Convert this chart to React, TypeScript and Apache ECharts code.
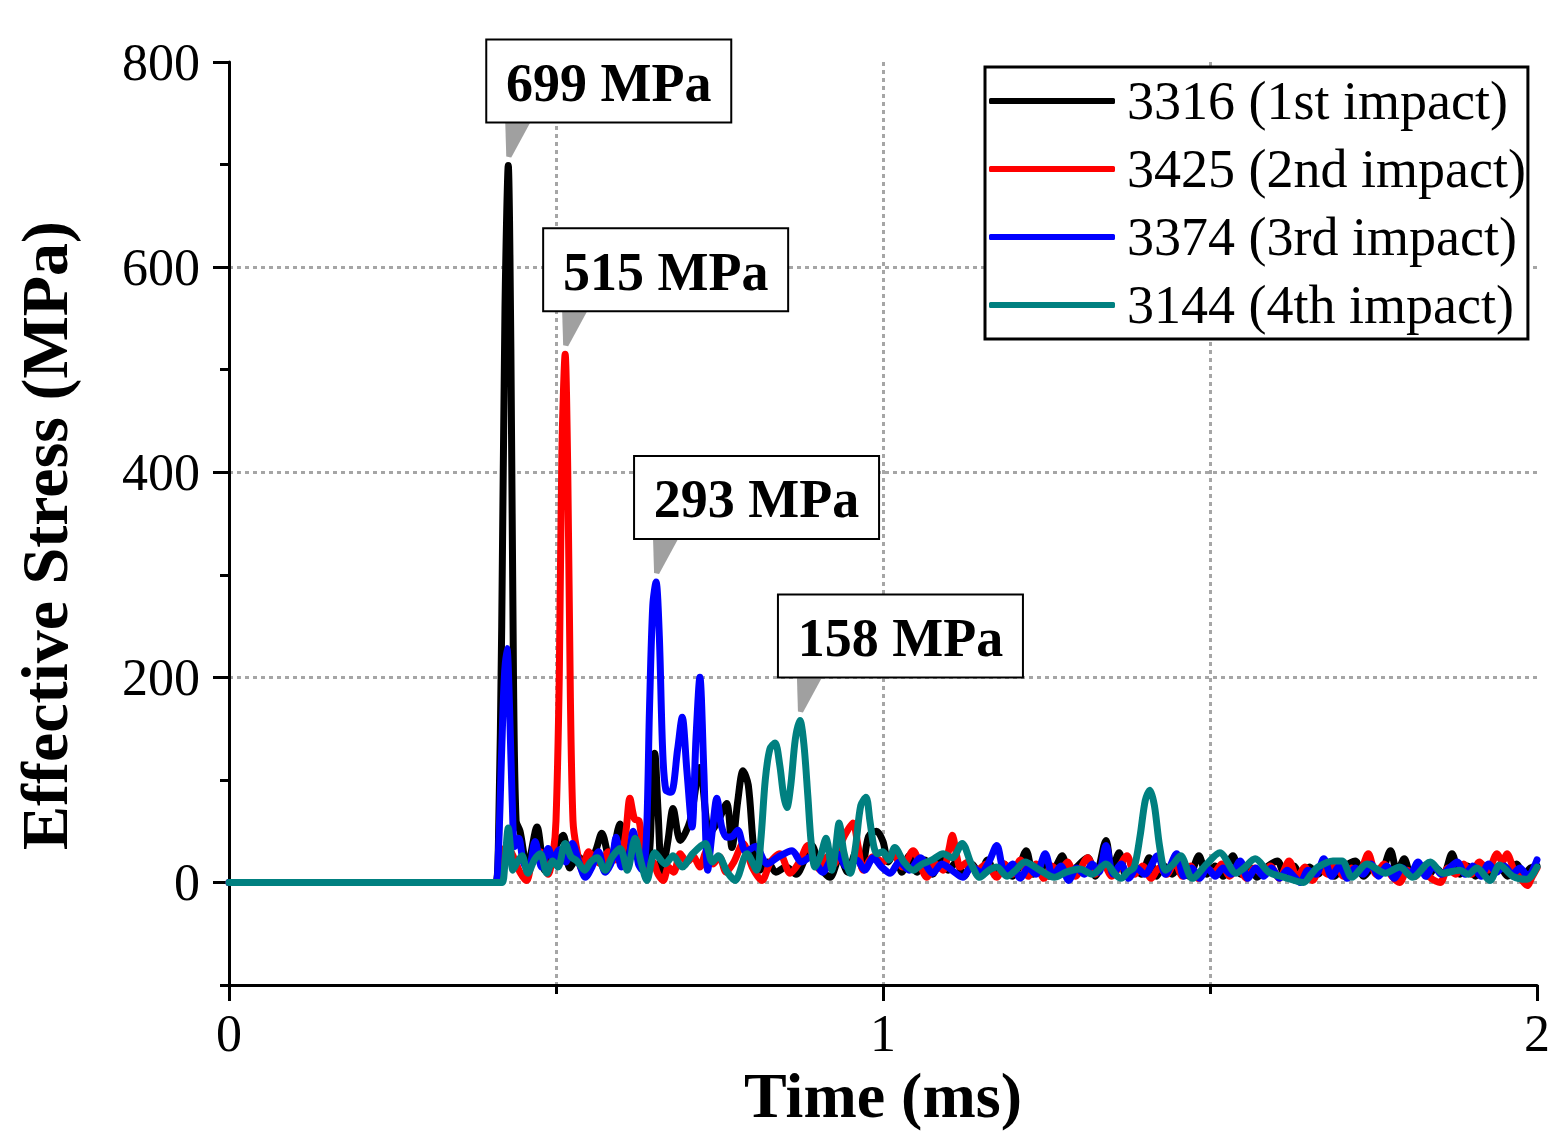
import React, { useEffect, useRef } from "react";
import * as echarts from "echarts";

const SERIES_NAMES = ["3316 (1st impact)", "3425 (2nd impact)", "3374 (3rd impact)", "3144 (4th impact)"];
const X_TICKS = [0, 1, 2];
const Y_MAJOR_TICKS = [0, 200, 400, 600, 800];
const PEAK_LABELS = ["699 MPa", "515 MPa", "293 MPa", "158 MPa"];
const PEAK_POINTS = [[0.427, 699], [0.514, 515], [0.653, 293], [0.873, 158]];

const black3316 = [
  [0, 0], [0.4, 0], [0.408, 0], [0.412, 40], [0.417, 250], [0.422, 560], [0.427, 699], [0.431, 520], [0.435, 200], [0.439, 60],
  [0.445, 50], [0.456, 15], [0.471, 54], [0.483, 12], [0.495, 30], [0.511, 46], [0.521, 14], [0.534, 25], [0.547, 18], [0.56, 30],
  [0.57, 48], [0.583, 20], [0.598, 57], [0.61, 25], [0.624, 40], [0.636, 15], [0.643, 30], [0.647, 90], [0.651, 126], [0.656, 70],
  [0.662, 8], [0.671, 40], [0.679, 72], [0.69, 41], [0.705, 60], [0.72, 112], [0.735, 48], [0.748, 60], [0.761, 77], [0.769, 34],
  [0.778, 80], [0.786, 109], [0.794, 95], [0.803, 30], [0.812, 12], [0.824, 20], [0.836, 10], [0.852, 15], [0.867, 8], [0.882, 25],
  [0.891, 36], [0.904, 15], [0.919, 5], [0.934, 25], [0.946, 10], [0.959, 30], [0.968, 15], [0.978, 45], [0.99, 50], [1.0, 40],
  [1.008, 20], [1.018, 30], [1.029, 10], [1.04, 26], [1.052, 10], [1.064, 22], [1.076, 8], [1.088, 25], [1.1, 12], [1.112, 20],
  [1.124, 6], [1.136, 18], [1.148, 8], [1.16, 22], [1.172, 8], [1.185, 18], [1.198, 6], [1.208, 15], [1.219, 31], [1.23, 8],
  [1.242, 18], [1.254, 6], [1.264, 15], [1.274, 26], [1.285, 6], [1.296, 15], [1.313, 24], [1.325, 6], [1.341, 41], [1.35, 12],
  [1.361, 29], [1.372, 6], [1.384, 14], [1.395, 8], [1.407, 24], [1.418, 6], [1.43, 16], [1.442, 8], [1.455, 18], [1.468, 6],
  [1.483, 26], [1.495, 8], [1.508, 16], [1.52, 6], [1.535, 26], [1.547, 8], [1.56, 15], [1.572, 5], [1.585, 14], [1.603, 21],
  [1.615, 6], [1.628, 16], [1.64, 5], [1.652, 15], [1.665, 8], [1.678, 20], [1.69, 6], [1.702, 14], [1.722, 21], [1.735, 6],
  [1.748, 14], [1.76, 8], [1.776, 31], [1.786, 10], [1.797, 23], [1.808, 6], [1.82, 15], [1.832, 6], [1.845, 14], [1.857, 8],
  [1.87, 28], [1.882, 8], [1.894, 16], [1.906, 6], [1.918, 14], [1.93, 8], [1.942, 16], [1.955, 6], [1.969, 18], [1.98, 8],
  [1.99, 14], [2.0, 16],
];

const red3425 = [
  [0, 0], [0.4, 0], [0.408, 0], [0.413, 15], [0.418, 30], [0.425, 35], [0.435, 25], [0.445, 10], [0.455, 2], [0.465, 25],
  [0.476, 30], [0.488, 8], [0.496, 30], [0.5, 60], [0.505, 200], [0.509, 420], [0.514, 515], [0.518, 400], [0.522, 180], [0.526, 60],
  [0.531, 35], [0.54, 12], [0.55, 30], [0.56, 22], [0.57, 18], [0.58, 30], [0.59, 22], [0.6, 25], [0.607, 50], [0.613, 82],
  [0.62, 62], [0.627, 60], [0.633, 30], [0.64, 12], [0.648, 20], [0.656, 8], [0.664, 2], [0.672, 15], [0.68, 10], [0.69, 28],
  [0.7, 20], [0.71, 25], [0.72, 15], [0.73, 30], [0.74, 18], [0.75, 25], [0.76, 10], [0.772, 20], [0.786, 38], [0.8, 15],
  [0.815, 2], [0.828, 20], [0.842, 28], [0.858, 9], [0.872, 20], [0.885, 36], [0.895, 20], [0.904, 12], [0.915, 25], [0.925, 18],
  [0.937, 40], [0.945, 50], [0.954, 58], [0.962, 35], [0.97, 12], [0.985, 25], [1.0, 20], [1.015, 28], [1.03, 15], [1.046, 31],
  [1.058, 15], [1.067, 5], [1.08, 18], [1.092, 12], [1.1, 30], [1.106, 46], [1.113, 25], [1.118, 15], [1.13, 20], [1.144, 12],
  [1.158, 18], [1.174, 5], [1.186, 18], [1.198, 8], [1.21, 22], [1.222, 6], [1.234, 18], [1.246, 4], [1.258, 16], [1.27, 10],
  [1.282, 20], [1.294, 6], [1.313, 24], [1.325, 8], [1.337, 18], [1.35, 6], [1.36, 14], [1.373, 26], [1.385, 8], [1.397, 16],
  [1.41, 4], [1.422, 14], [1.434, 8], [1.446, 20], [1.458, 6], [1.47, 16], [1.482, 4], [1.494, 14], [1.506, 10], [1.518, 18],
  [1.53, 6], [1.542, 14], [1.556, 4], [1.568, 14], [1.58, 8], [1.592, 16], [1.606, 4], [1.621, 21], [1.633, 5], [1.645, 15],
  [1.657, 2], [1.669, 14], [1.68, 8], [1.692, 18], [1.704, 6], [1.716, 14], [1.728, 10], [1.742, 28], [1.754, 8], [1.766, 18],
  [1.778, 6], [1.79, 0], [1.802, 12], [1.814, 6], [1.826, 16], [1.838, 4], [1.852, 0], [1.864, 14], [1.876, 8], [1.888, 18],
  [1.9, 8], [1.912, 20], [1.925, 12], [1.939, 28], [1.947, 20], [1.954, 28], [1.965, 12], [1.975, 4], [1.985, -3], [1.993, 6],
  [2.0, 14],
];

const blue3374 = [
  [0, 0], [0.4, 0], [0.408, 0], [0.412, 30], [0.417, 130], [0.421, 200], [0.425, 228], [0.429, 170], [0.433, 80], [0.437, 35],
  [0.443, 43], [0.45, 20], [0.458, 12], [0.468, 40], [0.478, 15], [0.488, 33], [0.496, 22], [0.505, 32], [0.515, 20], [0.525, 38],
  [0.535, 20], [0.545, 5], [0.555, 15], [0.565, 30], [0.575, 10], [0.585, 20], [0.592, 44], [0.6, 15], [0.61, 20], [0.618, 50],
  [0.626, 18], [0.632, 12], [0.638, 40], [0.643, 170], [0.648, 270], [0.653, 293], [0.658, 240], [0.663, 130], [0.668, 90], [0.676, 88],
  [0.686, 130], [0.693, 161], [0.7, 110], [0.708, 54], [0.714, 140], [0.72, 200], [0.726, 110], [0.732, 12], [0.739, 50], [0.746, 82],
  [0.753, 55], [0.761, 44], [0.77, 45], [0.778, 51], [0.79, 30], [0.805, 35], [0.823, 18], [0.84, 25], [0.861, 31], [0.875, 20],
  [0.89, 25], [0.908, 10], [0.92, 22], [0.93, 28], [0.945, 15], [0.96, 22], [0.972, 12], [0.985, 24], [0.998, 15], [1.011, 9],
  [1.025, 20], [1.04, 12], [1.057, 24], [1.076, 9], [1.09, 18], [1.105, 12], [1.122, 5], [1.135, 15], [1.15, 10], [1.162, 20],
  [1.174, 36], [1.186, 10], [1.198, 18], [1.21, 4], [1.222, 14], [1.234, 8], [1.248, 28], [1.26, 6], [1.272, 16], [1.284, 2],
  [1.296, 14], [1.308, 8], [1.32, 18], [1.33, 10], [1.341, 36], [1.352, 8], [1.364, 18], [1.376, 4], [1.388, 14], [1.4, 8],
  [1.42, 26], [1.432, 8], [1.449, 28], [1.46, 6], [1.472, 14], [1.484, 4], [1.496, 14], [1.508, 6], [1.52, 14], [1.532, 8],
  [1.546, 21], [1.558, 4], [1.57, 14], [1.582, 6], [1.594, 14], [1.606, 4], [1.618, 12], [1.628, 6], [1.638, 0], [1.65, 12],
  [1.662, 8], [1.674, 23], [1.686, 6], [1.698, 16], [1.71, 4], [1.722, 14], [1.734, 8], [1.746, 18], [1.758, 6], [1.77, 16],
  [1.782, 4], [1.794, 14], [1.806, 8], [1.818, 20], [1.83, 6], [1.842, 16], [1.854, 8], [1.866, 14], [1.878, 20], [1.89, 8],
  [1.902, 16], [1.914, 6], [1.926, 18], [1.938, 10], [1.95, 16], [1.962, 8], [1.974, 14], [1.986, 6], [2.0, 22],
];

const teal3144 = [
  [0, 0], [0.412, 0], [0.418, 0], [0.422, 20], [0.427, 53], [0.431, 30], [0.434, 12], [0.441, 20], [0.448, 26], [0.457, 9],
  [0.467, 22], [0.476, 28], [0.486, 9], [0.495, 21], [0.503, 15], [0.514, 38], [0.523, 25], [0.532, 21], [0.544, 12], [0.553, 20],
  [0.563, 24], [0.575, 12], [0.586, 25], [0.598, 33], [0.609, 12], [0.621, 43], [0.63, 20], [0.639, 2], [0.651, 29], [0.667, 18],
  [0.679, 26], [0.693, 15], [0.709, 28], [0.728, 38], [0.739, 20], [0.748, 26], [0.762, 10], [0.774, 2], [0.792, 28], [0.807, 12],
  [0.813, 40], [0.82, 100], [0.827, 130], [0.835, 136], [0.842, 115], [0.848, 85], [0.853, 73], [0.859, 95], [0.866, 140], [0.873, 158],
  [0.879, 135], [0.885, 85], [0.89, 40], [0.896, 15], [0.904, 25], [0.913, 43], [0.922, 12], [0.927, 30], [0.933, 58], [0.94, 30],
  [0.95, 9], [0.958, 35], [0.966, 75], [0.974, 83], [0.98, 60], [0.986, 35], [0.991, 28], [1.0, 30], [1.009, 22], [1.018, 34],
  [1.032, 20], [1.046, 12], [1.06, 18], [1.075, 22], [1.092, 28], [1.106, 24], [1.121, 38], [1.135, 18], [1.148, 5], [1.162, 12],
  [1.174, 15], [1.19, 6], [1.203, 12], [1.217, 20], [1.24, 12], [1.262, 5], [1.28, 10], [1.301, 13], [1.32, 8], [1.341, 18],
  [1.355, 8], [1.364, 4], [1.374, 10], [1.384, 15], [1.393, 45], [1.401, 80], [1.408, 90], [1.415, 75], [1.423, 35], [1.432, 12],
  [1.444, 18], [1.455, 26], [1.473, 4], [1.495, 18], [1.515, 29], [1.54, 9], [1.552, 14], [1.569, 23], [1.59, 10], [1.614, 5],
  [1.643, 0], [1.655, 8], [1.665, 15], [1.688, 21], [1.702, 21], [1.717, 5], [1.74, 18], [1.768, 9], [1.79, 15], [1.81, 5],
  [1.837, 20], [1.856, 9], [1.882, 12], [1.895, 8], [1.908, 14], [1.928, 2], [1.943, 17], [1.963, 6], [1.985, 3], [2.0, 15],
];

const SERIES_DATA = [black3316, red3425, blue3374, teal3144];
const SERIES_COLORS = ["#000000", "#ff0000", "#0000ff", "#008080"];

const FONT = '"Liberation Serif", "Times New Roman", Times, serif';

export default function App() {
  const ref = useRef<HTMLDivElement>(null);

  useEffect(() => {
    const el = ref.current;
    if (!el) return;
    const chart = echarts.init(el, null, { renderer: "svg" });
    const gridLine = { color: "#a6a6a6", width: 3, type: [4, 4] as number[] };

    chart.setOption({
      animation: false,
      backgroundColor: "#ffffff",
      grid: { left: 229, top: 62, right: 28, bottom: 154, containLabel: false, outerBoundsMode: "none" },
      legend: {
        data: SERIES_NAMES,
        orient: "vertical",
        left: 985,
        top: 67,
        backgroundColor: "#ffffff",
        borderColor: "#000000",
        borderWidth: 3,
        borderRadius: 0,
        padding: [4, 2, 4, 4],
        icon: "roundRect",
        itemWidth: 126,
        itemHeight: 6,
        itemGap: 8,
        selectedMode: false,
        textStyle: { fontFamily: FONT, fontSize: 54, color: "#000000", lineHeight: 60, padding: [0, 0, 0, 7] },
      },
      xAxis: {
        type: "value",
        min: 0,
        max: 2,
        interval: 1,
        name: "Time (ms)",
        nameLocation: "middle",
        nameGap: 78,
        nameMoveOverlap: false,
        nameTextStyle: { fontFamily: FONT, fontSize: 64, fontWeight: "bold", color: "#000000" },
        axisLine: { show: true, onZero: false, lineStyle: { color: "#000000", width: 3 } },
        axisTick: { show: true, length: 16, lineStyle: { color: "#000000", width: 3 } },
        minorTick: { show: true, splitNumber: 2, length: 9, lineStyle: { color: "#000000", width: 3 } },
        axisLabel: {
          fontFamily: FONT,
          fontSize: 52,
          color: "#000000",
          margin: 22,
          formatter: (v: number) => (X_TICKS.includes(v) ? String(v) : ""),
        },
        splitLine: { show: true, showMinLine: false, showMaxLine: false, lineStyle: gridLine },
        minorSplitLine: { show: true, lineStyle: gridLine },
      },
      yAxis: [
        {
          type: "value",
          min: -100,
          max: 800,
          interval: 100,
          position: "left",
          name: "Effective Stress (MPa)",
          nameLocation: "middle",
          nameRotate: 90,
          nameGap: 152,
          nameMoveOverlap: false,
          nameTextStyle: { fontFamily: FONT, fontSize: 66, fontWeight: "bold", color: "#000000", padding: [0, 24, 0, 0] },
          axisLine: { show: true, onZero: false, lineStyle: { color: "#000000", width: 3 } },
          axisTick: { show: true, length: 16, customValues: Y_MAJOR_TICKS, lineStyle: { color: "#000000", width: 3 } },
          axisLabel: {
            fontFamily: FONT,
            fontSize: 52,
            color: "#000000",
            margin: 29,
            customValues: Y_MAJOR_TICKS,
            formatter: (v: number) => (Y_MAJOR_TICKS.includes(v) ? String(v) : ""),
          },
          splitLine: { show: true, showMinLine: true, showMaxLine: false, lineStyle: gridLine },
        },
        {
          type: "value",
          min: -100,
          max: 800,
          interval: 100,
          position: "left",
          offset: 0,
          axisLine: { show: false },
          axisTick: { show: true, length: 9, lineStyle: { color: "#000000", width: 3 } },
          axisLabel: { show: false },
          splitLine: { show: false },
        },
      ],
      series: SERIES_NAMES.map((name, i) => ({
        name,
        type: "line",
        data: SERIES_DATA[i],
        xAxisIndex: 0,
        yAxisIndex: 0,
        symbol: "none",
        showSymbol: false,
        smooth: 0.3,
        z: 3 + i,
        color: SERIES_COLORS[i],
        itemStyle: { color: SERIES_COLORS[i] },
        lineStyle: { color: SERIES_COLORS[i], width: 7, join: "round", cap: "round" },
      })),
    });

    const elements: any[] = [];
    PEAK_POINTS.forEach((p, i) => {
      const [px, py] = chart.convertToPixel({ xAxisIndex: 0, yAxisIndex: 0 }, p) as number[];
      const bw = 245;
      const bh = 83;
      const bx = px - 22;
      const by = py - 126;
      elements.push({
        type: "polygon",
        z: 100,
        shape: { points: [[px - 3, by + bh], [px + 22, by + bh], [px + 3, py - 8], [px - 2, py - 9]] },
        style: { fill: "#a0a0a0" },
      });
      elements.push({
        type: "rect",
        z: 101,
        shape: { x: bx, y: by, width: bw, height: bh },
        style: { fill: "#ffffff", stroke: "#000000", lineWidth: 2 },
      });
      elements.push({
        type: "text",
        z: 102,
        x: bx + bw / 2,
        y: by + bh / 2 + 2,
        style: {
          text: PEAK_LABELS[i],
          fontFamily: FONT,
          fontSize: 54,
          fontWeight: "bold",
          fill: "#000000",
          align: "center",
          verticalAlign: "middle",
        },
      });
    });
    chart.setOption({ graphic: elements });

    return () => {
      chart.dispose();
    };
  }, []);

  return (
    <div
      ref={ref}
      style={{ position: "fixed", left: 0, top: 0, width: 1565, height: 1139, background: "#ffffff" }}
    />
  );
}
